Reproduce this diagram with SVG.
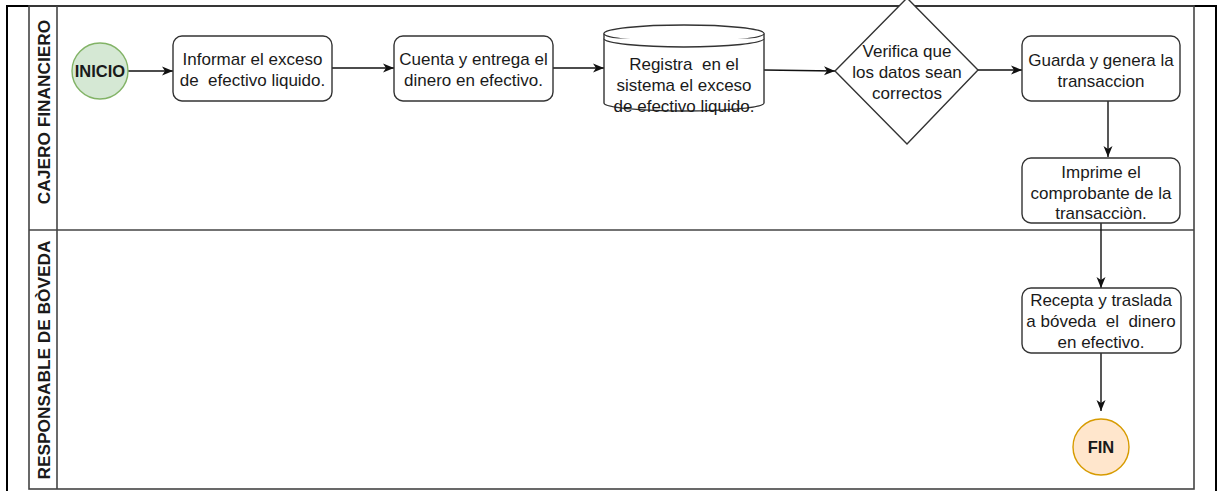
<svg xmlns="http://www.w3.org/2000/svg" width="1222" height="491" viewBox="0 0 1222 491">
<style>
.frame{fill:none;stroke:#000;stroke-width:2}
.pool{fill:none;stroke:#444;stroke-width:1.6}
.box{fill:#fff;stroke:#333;stroke-width:1.4}
.conn{fill:none;stroke:#111;stroke-width:1.4}
text{font-family:"Liberation Sans",Arial,sans-serif;font-size:17px;fill:#1a1a1a;text-anchor:middle}
.b{font-weight:bold}
.lane{font-size:17.3px}
.ev{font-size:16.5px}
</style>
<defs>
<marker id="arr" markerUnits="userSpaceOnUse" markerWidth="12" markerHeight="10" viewBox="0 0 12 10" refX="11" refY="5" orient="auto">
<path d="M0,0.5 L11,5 L0,9.5 L3,5 z" fill="#111"/>
</marker>
</defs>
<rect width="1222" height="491" fill="#fff"/>
<g id="frame">
<path class="frame" d="M7,491 V6 H1216 V491"/>
</g>
<g id="pool">
<rect class="pool" x="29" y="6" width="1165" height="483"/>
<line class="pool" x1="57" y1="6" x2="57" y2="489"/>
<line class="pool" x1="29" y1="230" x2="1194" y2="230"/>
<text class="b lane" transform="translate(50,112) rotate(-90)">CAJERO FINANCIERO</text>
<text class="b lane" transform="translate(50,360) rotate(-90)">RESPONSABLE DE BÒVEDA</text>
</g>
<g id="connectors">
<line class="conn" x1="128" y1="71" x2="173" y2="71" marker-end="url(#arr)"/>
<line class="conn" x1="332" y1="68" x2="394" y2="68" marker-end="url(#arr)"/>
<line class="conn" x1="553" y1="68" x2="604" y2="68" marker-end="url(#arr)"/>
<line class="conn" x1="764" y1="70" x2="835" y2="71" marker-end="url(#arr)"/>
<line class="conn" x1="978" y1="70" x2="1022" y2="70" marker-end="url(#arr)"/>
<line class="conn" x1="1108" y1="101" x2="1108" y2="157" marker-end="url(#arr)"/>
<line class="conn" x1="1101" y1="223" x2="1101" y2="288" marker-end="url(#arr)"/>
<line class="conn" x1="1101" y1="347" x2="1101" y2="411" marker-end="url(#arr)"/>
</g>
<g id="inicio">
<circle cx="100" cy="71" r="28" fill="#d5e8d4" stroke="#82b366" stroke-width="1.4"/>
<text class="b ev" x="100" y="77">INICIO</text>
</g>
<g id="informar">
<rect class="box" x="173" y="36" width="159" height="65" rx="9"/>
<text x="252.5" y="65">Informar el exceso</text>
<text x="252.5" y="85.5" xml:space="preserve">de  efectivo liquido.</text>
</g>
<g id="cuenta">
<rect class="box" x="394" y="36" width="159" height="65" rx="9"/>
<text x="473.5" y="65">Cuenta y entrega el</text>
<text x="473.5" y="85.5">dinero en efectivo.</text>
</g>
<g id="registra">
<path class="box" d="M604,33.5 A80,8.5 0 0 1 764,33.5 V103 A80,8 0 0 1 604,103 Z"/>
<path class="box" fill="none" d="M604,33.5 A80,8.5 0 0 0 764,33.5"/>
<path class="box" fill="none" d="M604,38.5 A80,8.5 0 0 0 764,38.5"/>
<text x="684" y="70" xml:space="preserve">Registra  en el</text>
<text x="684" y="91">sistema el exceso</text>
<text x="684" y="112">de efectivo liquido.</text>
</g>
<g id="verifica">
<polygon class="box" points="907,-2 978,70 907,144 835,71"/>
<text x="907" y="57">Verifica que</text>
<text x="907" y="78">los datos sean</text>
<text x="907" y="99">correctos</text>
</g>
<g id="guarda">
<rect class="box" x="1022" y="36" width="158" height="65" rx="9"/>
<text x="1101" y="66">Guarda y genera la</text>
<text x="1101" y="86.5">transaccion</text>
</g>
<g id="imprime">
<rect class="box" x="1022" y="158" width="158" height="65" rx="9"/>
<text x="1101" y="178">Imprime el</text>
<text x="1101" y="199">comprobante de la</text>
<text x="1101" y="219">transacciòn.</text>
</g>
<g id="recepta">
<rect class="box" x="1022" y="288" width="159" height="65" rx="9"/>
<text x="1101" y="306">Recepta y traslada</text>
<text x="1101" y="327" xml:space="preserve">a bóveda  el  dinero</text>
<text x="1101" y="348">en efectivo.</text>
</g>
<g id="fin">
<circle cx="1101" cy="447" r="28" fill="#ffe6cc" stroke="#d79b00" stroke-width="1.4"/>
<text class="b ev" x="1101" y="453">FIN</text>
</g>
</svg>
